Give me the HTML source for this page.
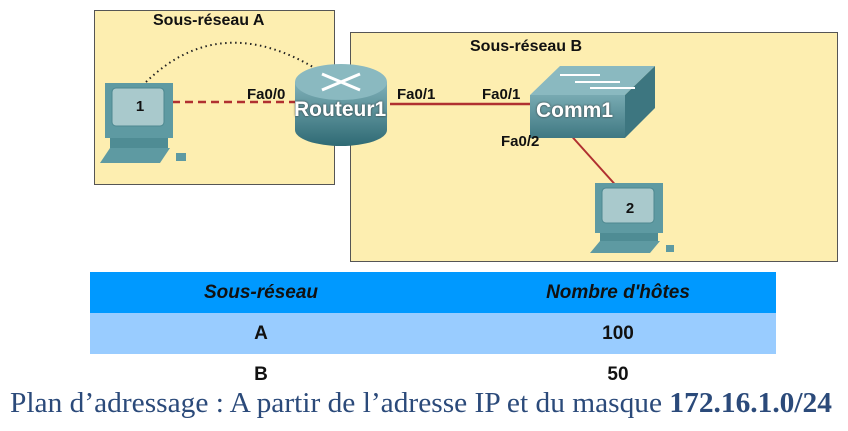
<!DOCTYPE html>
<html><head><meta charset="utf-8"><style>
body{margin:0;width:848px;height:431px;background:#fff;position:relative;overflow:hidden;font-family:"Liberation Sans",sans-serif}
.abs{position:absolute}
.t{position:absolute;font-weight:bold;font-size:14px;color:#111;white-space:nowrap}
.c{text-align:center;font-size:19px}
</style></head><body>
<svg class="abs" style="left:0;top:0" width="848" height="270">
<defs>
<linearGradient id="rt" x1="0" x2="0" y1="0" y2="1"><stop offset="0" stop-color="#7fb0b8"/><stop offset="1" stop-color="#2f6a74"/></linearGradient>
<linearGradient id="sw" x1="0" x2="0" y1="0" y2="1"><stop offset="0" stop-color="#78aab2"/><stop offset="1" stop-color="#3f7882"/></linearGradient>
</defs>
<rect x="94.5" y="10.5" width="240" height="174" fill="#fdeeb0" stroke="#555"/>
<rect x="350.5" y="32.5" width="487" height="229" fill="#fdeeb0" stroke="#555"/>
<path d="M146 82 Q220 10 318 70" fill="none" stroke="#222" stroke-width="2" stroke-dasharray="1.5 3.5"/>
<line x1="172" y1="102" x2="300" y2="102" stroke="#b03030" stroke-width="2.5" stroke-dasharray="8 5"/>
<line x1="390" y1="104" x2="530" y2="104" stroke="#b03030" stroke-width="2.5"/>
<line x1="567" y1="131" x2="620" y2="190" stroke="#b03030" stroke-width="2"/>
<g transform="translate(100,83)">
<rect x="5" y="0" width="68" height="55" fill="#5e9aa2"/><rect x="12" y="5" width="52" height="38" rx="4" fill="#a9c9cc" stroke="#4d8890"/>
<rect x="10" y="55" width="58" height="10" fill="#4f8c94"/><polygon points="0,80 10,65 70,65 60,80" fill="#5e9aa2"/>
<rect x="76" y="70" width="10" height="8" fill="#5e9aa2"/>
<text x="40" y="28" font-weight="bold" font-size="15" text-anchor="middle" fill="#111">1</text></g>
<g transform="translate(590,183)">
<rect x="5" y="0" width="68" height="50" fill="#5e9aa2"/><rect x="12" y="5" width="52" height="35" rx="4" fill="#a9c9cc" stroke="#4d8890"/>
<rect x="10" y="50" width="58" height="8" fill="#4f8c94"/><polygon points="0,70 10,58 70,58 60,70" fill="#5e9aa2"/>
<rect x="76" y="62" width="8" height="7" fill="#5e9aa2"/>
<text x="40" y="30" font-weight="bold" font-size="15" text-anchor="middle" fill="#111">2</text></g>
<path d="M295 82 L295 130 A46 16 0 0 0 387 130 L387 82 Z" fill="url(#rt)"/>
<ellipse cx="341" cy="82" rx="46" ry="18" fill="#8ab9c0"/>
<path d="M322 74 L360 90 M360 74 L322 90" stroke="#fff" stroke-width="3"/>
<polygon points="530,95 560,66 655,66 625,95" fill="#8ab9c0"/>
<polygon points="625,95 655,66 655,108 625,138" fill="#3d7680"/>
<rect x="530" y="95" width="95" height="43" fill="url(#sw)"/>
<path d="M560 75 L600 75 M575 82 L620 82 M590 88 L635 88" stroke="#fff" stroke-width="2"/>
</svg>
<div class="t" style="left:153px;top:12px;font-size:16px">Sous-réseau A</div>
<div class="t" style="left:470px;top:38px;font-size:16px">Sous-réseau B</div>
<div class="t" style="left:247px;top:86px;font-size:15px">Fa0/0</div>
<div class="t" style="left:397px;top:86px;font-size:15px">Fa0/1</div>
<div class="t" style="left:482px;top:86px;font-size:15px">Fa0/1</div>
<div class="t" style="left:501px;top:133px;font-size:15px">Fa0/2</div>
<div class="t" style="left:294px;top:98px;font-size:21px;color:#fff;text-shadow:0 0 2px #333">Routeur1</div>
<div class="t" style="left:536px;top:99px;font-size:21px;color:#fff;text-shadow:0 0 2px #333">Comm1</div>
<div class="abs" style="left:90px;top:272px;width:686px;height:41px;background:#0099ff"></div>
<div class="abs" style="left:90px;top:313px;width:686px;height:41px;background:#99ccff"></div>
<div class="t c" style="left:130px;top:282px;width:262px;font-style:italic">Sous-réseau</div>
<div class="t c" style="left:487px;top:282px;width:262px;font-style:italic">Nombre d'hôtes</div>
<div class="t c" style="left:130px;top:323px;width:262px">A</div>
<div class="t c" style="left:487px;top:323px;width:262px">100</div>
<div class="t c" style="left:130px;top:364px;width:262px">B</div>
<div class="t c" style="left:487px;top:364px;width:262px">50</div>
<div class="abs" style="left:10px;top:388px;font-family:'Liberation Serif',serif;font-size:28px;color:#2b4a7a;white-space:nowrap;transform:scaleX(1.05);transform-origin:0 0">Plan d’adressage : A partir de l’adresse IP et du masque <b>172.16.1.0/24</b></div>
</body></html>
